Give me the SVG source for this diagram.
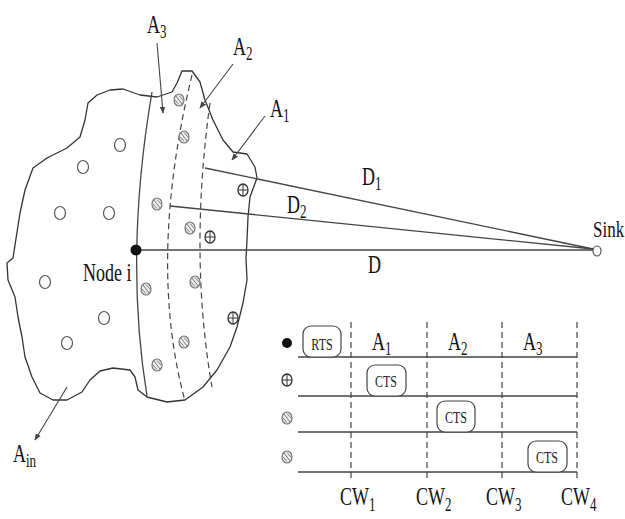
<svg xmlns="http://www.w3.org/2000/svg" width="625" height="519" viewBox="0 0 625 519">
<style>
.ol{fill:none;stroke:#333;stroke-width:1.3;stroke-linejoin:round}
.ln{fill:none;stroke:#444;stroke-width:1.3}
.dash{fill:none;stroke:#444;stroke-width:1.2;stroke-dasharray:6,4}
.arr{fill:none;stroke:#444;stroke-width:1.1;marker-end:url(#ah)}
.t{font-family:"Liberation Serif","Times New Roman",serif;font-size:18px;fill:#111}
.s{font-size:13px}
.sm{font-family:"Liberation Serif","Times New Roman",serif;font-size:12px;fill:#222}
.box{fill:#fff;stroke:#444;stroke-width:1.2}
.pn{fill:#fff;stroke:#555;stroke-width:1.2}
.hn{fill:#eee;stroke:#777;stroke-width:1.2}
.hl{stroke:#777;stroke-width:1}
.cn{fill:#fff;stroke:#333;stroke-width:1.3}
</style>
<defs>
<marker id="ah" viewBox="0 0 10 10" refX="9" refY="5" markerWidth="7" markerHeight="7" orient="auto" markerUnits="userSpaceOnUse">
<path d="M0,1 L10,5 L0,9 z" fill="#444"/>
</marker>
<g id="hatch"><ellipse class="hn" rx="5" ry="6"/><path class="hl" d="M-3,-4 L3,4 M-4.5,-0.5 L0,4.5 M0,-4.5 L4.5,0.5"/></g>
<g id="cross"><ellipse class="cn" rx="5" ry="6"/><path class="hl" style="stroke:#333" d="M-5,0 H5 M0,-6 V6"/></g>
<g id="plain"><ellipse class="pn" rx="5.5" ry="6.5"/></g>
</defs>

<!-- region outline -->
<g id="region">
<path class="ol" d="M13,258 L20,213 L25,190 L33,168 L47,158 L67,148 L80,137 L85,120 L88,103 L97,95 L110,90 L123,89 L140,95 L157,97 L172,92 L177,83 L182,71 L192,71 L200,82 L205,100 L213,120 L223,140 L233,152 L247,154 L255,167 L257,178 L250,197 L248,217 L247,240 L246,258 L247,280 L243,303 L237,327 L230,347 L217,370 L203,387 L185,400 L167,402 L147,397 L138,390 L135,377 L130,370 L113,368 L100,371 L90,380 L82,392 L67,400 L53,400 L40,393 L32,377 L25,357 L22,337 L18,317 L15,297 L8,280 L7,263 Z"/>
<path class="ln" d="M152,92 Q124,256 147,396"/>
<path class="dash" d="M192,75 Q147,261 185,401"/>
<path class="dash" d="M210,103 Q189,255 212,387"/>
</g>

<!-- connectors -->
<g id="connectors">
<path class="ln" d="M136,250 L594,250"/>
<path class="ln" d="M205,168 L593,249"/>
<path class="ln" d="M170,206 L593,249"/>
<path class="arr" d="M157,43 L163,113"/>
<path class="arr" d="M233,64 L200,108"/>
<path class="arr" d="M265,116 L232,160"/>
<path class="arr" d="M67,387 L35,440"/>
</g>

<!-- nodes -->
<g id="node-i"><circle cx="136" cy="250" r="5.5" fill="#111"/></g>
<g id="sink"><ellipse cx="597" cy="251" rx="4" ry="5" class="pn"/></g>
<g id="p1"><use href="#plain" x="120" y="145"/></g>
<g id="p2"><use href="#plain" x="83" y="167"/></g>
<g id="p3"><use href="#plain" x="60" y="213"/></g>
<g id="p4"><use href="#plain" x="109" y="213"/></g>
<g id="p5"><use href="#plain" x="45" y="282"/></g>
<g id="p6"><use href="#plain" x="104" y="318"/></g>
<g id="p7"><use href="#plain" x="67" y="343"/></g>
<g id="h1"><use href="#hatch" x="179" y="100"/></g>
<g id="h2"><use href="#hatch" x="184" y="137"/></g>
<g id="h3"><use href="#hatch" x="157" y="204"/></g>
<g id="h4"><use href="#hatch" x="190" y="228"/></g>
<g id="h5"><use href="#hatch" x="146" y="289"/></g>
<g id="h6"><use href="#hatch" x="195" y="282"/></g>
<g id="h7"><use href="#hatch" x="184" y="342"/></g>
<g id="h8"><use href="#hatch" x="157" y="365"/></g>
<g id="c1"><use href="#cross" x="243" y="190"/></g>
<g id="c2"><use href="#cross" x="210" y="237"/></g>
<g id="c3"><use href="#cross" x="233" y="318"/></g>

<!-- labels -->
<g id="labels">
<text class="t" transform="translate(147,33) scale(1,1.45)">A<tspan class="s" dy="3.5">3</tspan></text>
<text class="t" transform="translate(233,55) scale(1,1.45)">A<tspan class="s" dy="3.5">2</tspan></text>
<text class="t" transform="translate(270,117) scale(1,1.45)">A<tspan class="s" dy="3.5">1</tspan></text>
<text class="t" transform="translate(362,185) scale(1,1.45)">D<tspan class="s" dy="3.5">1</tspan></text>
<text class="t" transform="translate(287,213) scale(1,1.45)">D<tspan class="s" dy="3.5">2</tspan></text>
<text class="t" transform="translate(368,273) scale(1,1.45)">D</text>
<text class="t" transform="translate(593,237) scale(1,1.4)" style="font-size:17px">Sink</text>
<text class="t" transform="translate(83,281) scale(1,1.45)">Node i</text>
<text class="t" transform="translate(13,462) scale(1,1.45)">A<tspan class="s" dy="3.5">in</tspan></text>
</g>

<!-- timing chart -->
<g id="timing">
<path class="ln" d="M298,357 H577 M298,396 H577 M298,432 H577 M298,472 H577"/>
<path class="dash" d="M351,322 V482 M427,322 V482 M502,322 V482 M577,322 V482"/>
<circle cx="287" cy="343" r="5" fill="#111"/>
<use href="#cross" x="287" y="380"/>
<use href="#hatch" x="287" y="418"/>
<use href="#hatch" x="287" y="457"/>
<g id="rts"><rect class="box" x="303" y="326" width="38" height="31" rx="8"/><text class="sm" text-anchor="middle" transform="translate(322,350) scale(1,1.45)">RTS</text></g>
<g id="cts1"><rect class="box" x="367" y="365" width="39" height="31" rx="8"/><text class="sm" text-anchor="middle" transform="translate(386,387) scale(1,1.45)">CTS</text></g>
<g id="cts2"><rect class="box" x="437" y="401" width="38" height="31" rx="8"/><text class="sm" text-anchor="middle" transform="translate(456,423) scale(1,1.45)">CTS</text></g>
<g id="cts3"><rect class="box" x="528" y="441" width="39" height="31" rx="8"/><text class="sm" text-anchor="middle" transform="translate(547,463) scale(1,1.45)">CTS</text></g>
<text class="t" transform="translate(372,350) scale(1,1.45)">A<tspan class="s" dy="3.5">1</tspan></text>
<text class="t" transform="translate(448,350) scale(1,1.45)">A<tspan class="s" dy="3.5">2</tspan></text>
<text class="t" transform="translate(523,350) scale(1,1.45)">A<tspan class="s" dy="3.5">3</tspan></text>
<text class="t" transform="translate(340,505) scale(1,1.45)">CW<tspan class="s" dy="4">1</tspan></text>
<text class="t" transform="translate(416,505) scale(1,1.45)">CW<tspan class="s" dy="4">2</tspan></text>
<text class="t" transform="translate(486,505) scale(1,1.45)">CW<tspan class="s" dy="4">3</tspan></text>
<text class="t" transform="translate(561,505) scale(1,1.45)">CW<tspan class="s" dy="4">4</tspan></text>
</g>
</svg>
